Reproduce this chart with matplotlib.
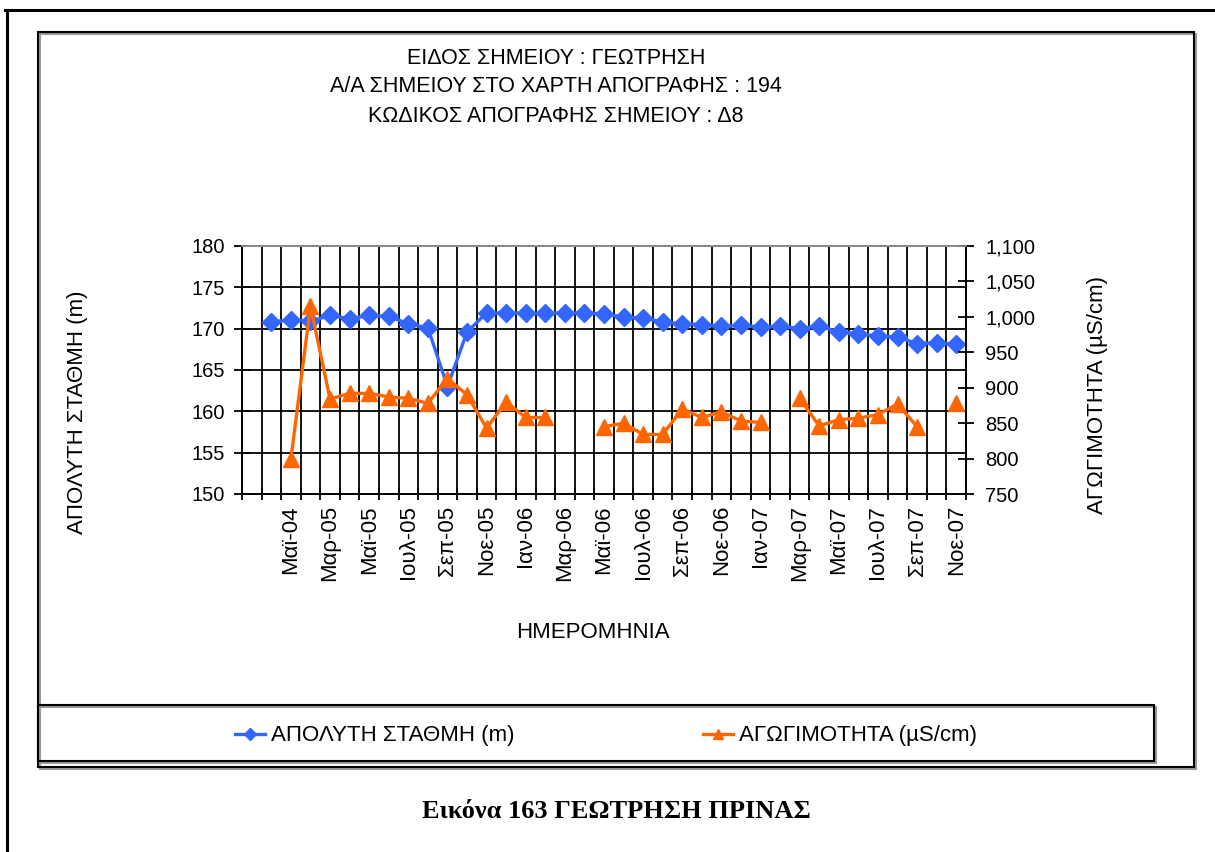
import numpy as np
import matplotlib
matplotlib.use("Agg")
import matplotlib.pyplot as plt
from matplotlib.patches import Rectangle
from matplotlib.lines import Line2D
from matplotlib.ticker import FuncFormatter

plt.rcParams['font.family'] = ['Liberation Sans', 'DejaVu Sans']

# ---------------- data ----------------
categories = ["", "Απρ-04", "Μαϊ-04", "Οκτ-04", "Μαρ-05", "Απρ-05", "Μαϊ-05", "Ιουν-05",
              "Ιουλ-05", "Αυγ-05", "Σεπ-05", "Οκτ-05", "Νοε-05", "Δεκ-05", "Ιαν-06",
              "Φεβ-06", "Μαρ-06", "Απρ-06", "Μαϊ-06", "Ιουν-06", "Ιουλ-06", "Αυγ-06",
              "Σεπ-06", "Οκτ-06", "Νοε-06", "Δεκ-06", "Ιαν-07", "Φεβ-07", "Μαρ-07",
              "Απρ-07", "Μαϊ-07", "Ιουν-07", "Ιουλ-07", "Αυγ-07", "Σεπ-07", "Οκτ-07",
              "Νοε-07"]

level_m = [np.nan, 170.8, 171.1, 170.9, 171.6, 171.2, 171.6, 171.5, 170.6, 170.1,
           163.0, 169.6, 171.9, 171.9, 171.9, 171.9, 171.9, 171.9, 171.8, 171.4,
           171.3, 170.8, 170.6, 170.5, 170.3, 170.4, 170.2, 170.3, 170.0, 170.3,
           169.6, 169.4, 169.1, 169.0, 168.2, 168.3, 168.1]

conductivity = [np.nan, np.nan, 800, 1015, 884, 892, 892, 887, 885, 878,
                913, 890, 843, 880, 858, 858, np.nan, np.nan, 845, 850,
                834, 834, 870, 858, 866, 853, 851, np.nan, 885, 846,
                855, 857, 862, 877, 845, np.nan, 878]

left_ticks = [150, 155, 160, 165, 170, 175, 180]
right_ticks = [750, 800, 850, 900, 950, 1000, 1050, 1100]

title_lines = ["ΕΙΔΟΣ ΣΗΜΕΙΟΥ : ΓΕΩΤΡΗΣΗ",
               "Α/Α ΣΗΜΕΙΟΥ ΣΤΟ ΧΑΡΤΗ ΑΠΟΓΡΑΦΗΣ : 194",
               "ΚΩΔΙΚΟΣ ΑΠΟΓΡΑΦΗΣ ΣΗΜΕΙΟΥ : Δ8"]
label_level = "ΑΠΟΛΥΤΗ ΣΤΑΘΜΗ (m)"
label_cond = "ΑΓΩΓΙΜΟΤΗΤΑ (µS/cm)"
xlabel = "ΗΜΕΡΟΜΗΝΙΑ"
caption = "Εικόνα 163 ΓΕΩΤΡΗΣΗ ΠΡΙΝΑΣ"

# ---------------- figure ----------------
W, H = 1215, 852
fig = plt.figure(figsize=(W / 100, H / 100), dpi=100)
fig.patch.set_facecolor("white")


def fx(x):
    return x / W


def fy(y):
    return 1 - y / H


BLUE = "#3366FF"
ORANGE = "#FF6600"
FS_TICK = 14.5
FS_TXT = 16

# outer page frame lines
fig.add_artist(Line2D([fx(5), fx(1215)], [fy(10), fy(10)], color="black", lw=2.2,
                      transform=fig.transFigure))
fig.add_artist(Line2D([fx(7), fx(7)], [fy(10), fy(852)], color="black", lw=2.2,
                      transform=fig.transFigure))

# chart frame with shadow
fig.add_artist(Rectangle((fx(40), fy(769)), fx(1194 - 38), (767 - 32) / H, fill=False,
                         edgecolor="#9a9a9a", lw=1.5, transform=fig.transFigure))
fig.add_artist(Rectangle((fx(38), fy(767)), fx(1194 - 38), (767 - 32) / H, fill=False,
                         edgecolor="black", lw=1.5, transform=fig.transFigure))
# legend box with shadow
fig.add_artist(Rectangle((fx(40), fy(763)), fx(1154 - 38), (761 - 705) / H, fill=False,
                         edgecolor="#9a9a9a", lw=1.5, transform=fig.transFigure))
fig.add_artist(Rectangle((fx(38), fy(761)), fx(1154 - 38), (761 - 705) / H, fill=False,
                         edgecolor="black", lw=1.5, transform=fig.transFigure))

ax = fig.add_axes([fx(242), fy(494), fx(966 - 242), (494 - 246) / H])
ax2 = ax.twinx()

x = np.arange(len(categories))

ax.plot(x, level_m, color=BLUE, lw=2.4, marker="D", markersize=9,
        markerfacecolor=BLUE, markeredgecolor=BLUE, zorder=3,
        label=label_level)
ax2.plot(x, conductivity, color=ORANGE, lw=2.4, marker="^", markersize=11,
         markerfacecolor=ORANGE, markeredgecolor=ORANGE, zorder=3,
         label=label_cond)

ax.set_xlim(-0.5, len(categories) - 0.5)
ax.set_ylim(150, 180)
ax2.set_ylim(750, 1100)

shown = list(range(2, len(categories), 2))
ax.set_xticks(shown)
ax.set_xticklabels([categories[i] for i in shown], rotation=90, fontsize=FS_TXT)
ax.set_xticks(np.arange(-0.5, len(categories), 1), minor=True)
ax.tick_params(axis="x", which="major", length=0, pad=8)
ax.tick_params(axis="x", which="minor", direction="inout", length=9, width=1.3,
               color="black")
ax.grid(axis="x", which="minor", color="black", lw=1.3)

ax.set_yticks(left_ticks)
ax.set_yticklabels([str(v) for v in left_ticks], fontsize=FS_TICK)
ax.tick_params(axis="y", which="major", direction="inout", length=12, width=1.3,
               pad=6)
ax.grid(axis="y", which="major", color="black", lw=1.3)
ax.set_axisbelow(True)

ax2.set_yticks(right_ticks)
ax2.yaxis.set_major_formatter(FuncFormatter(lambda v, p: f"{v:,.0f}"))
ax2.tick_params(axis="y", direction="inout", length=12, width=1.3,
                labelsize=FS_TICK, pad=8)

for a in (ax, ax2):
    for s in a.spines.values():
        s.set_color("black")
        s.set_linewidth(1.3)
    a.spines["top"].set_color("#8a8a8a")

# axis titles
fig.text(fx(78), fy(412), label_level, rotation=90, ha="center", va="center",
         fontsize=FS_TXT)
fig.text(fx(1098), fy(395), label_cond, rotation=90, ha="center", va="center",
         fontsize=FS_TXT)
fig.text(fx(593), fy(632), xlabel, ha="center", va="center", fontsize=FS_TXT)

for i, line in enumerate(title_lines):
    fig.text(fx(556), fy(58 + 29 * i), line, ha="center", va="center",
             fontsize=15.5)

fig.text(fx(616), fy(811), caption, ha="center", va="center", fontsize=19,
         fontweight="bold", family=["Liberation Serif", "DejaVu Serif"])

# legend
h1, l1 = ax.get_legend_handles_labels()
h2, l2 = ax2.get_legend_handles_labels()
leg_handles = [Line2D([], [], color=BLUE, lw=2.4, marker="D", markersize=6),
               Line2D([], [], color=ORANGE, lw=2.4, marker="^", markersize=7)]
fig.legend(leg_handles, l1 + l2, loc="center", bbox_to_anchor=(fx(606), fy(736)),
           ncol=2, frameon=False, fontsize=FS_TXT, handlelength=1.35,
           handletextpad=0.25, columnspacing=8.5)

fig.savefig("out.png", dpi=100, facecolor="white")
